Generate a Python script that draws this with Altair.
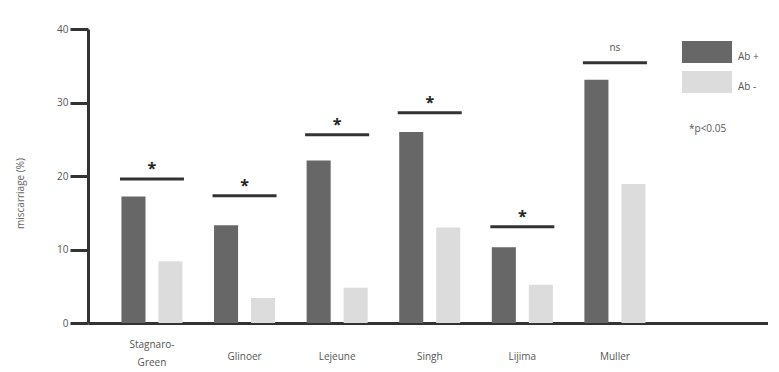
import altair as alt
import pandas as pd

studies = ["Stagnaro-Green", "Glinoer", "Lejeune", "Singh", "Lijima", "Muller"]
series_names = ["Ab +", "Ab -"]
ab_plus = [17.2, 13.3, 22.1, 26.0, 10.3, 33.1]
ab_minus = [8.4, 3.4, 4.8, 13.0, 5.2, 18.9]
sig_level = [19.6, 17.3, 25.6, 28.6, 13.1, 35.4]
sig_label = ["*", "*", "*", "*", "*", "ns"]
y_ticks = [0, 10, 20, 30, 40]
footnote = "*p<0.05"

DARK = "#676767"
LIGHT = "#dcdcdc"
INK = "#333333"
TXT = "#555555"
FONT = "Open Sans"

rows = []
for s, a, b in zip(studies, ab_plus, ab_minus):
    rows.append({"study": s, "series": series_names[0], "value": a})
    rows.append({"study": s, "series": series_names[1], "value": b})
bars_df = pd.DataFrame(rows)
sig_df = pd.DataFrame({"study": studies, "level": sig_level, "label": sig_label})

x_scale = alt.Scale(domain=studies, paddingInner=0, paddingOuter=0.672, align=0.142)
y_scale = alt.Scale(domain=[0, 40], nice=False)

x_axis = alt.Axis(
    title=None, ticks=False, tickSize=0, domainColor=INK, domainWidth=3,
    labelAngle=0, labelFont=FONT, labelFontSize=10, labelColor=TXT,
    labelBaseline="middle",
    labelPadding={"condition": {"test": "datum.value == 'Stagnaro-Green'", "value": 21}, "value": 33},
    labelExpr="datum.value == 'Stagnaro-Green' ? ['Stagnaro-', 'Green'] : datum.label",
    labelLineHeight=18,
)
y_axis = alt.Axis(
    title="miscarriage (%)", values=y_ticks, grid=False,
    domainColor=INK, domainWidth=3, tickColor=INK, tickWidth=3, tickSize=18,
    labelFont=FONT, labelFontSize=10, labelColor=TXT, labelPadding=2,
    titleFont=FONT, titleFontSize=10, titleFontWeight="normal", titleColor="#666666",
    titleX=-68, titleY=164, titleAngle=270, titleAlign="center", titleBaseline="middle",
)

legend = alt.Legend(
    title=footnote, titleOrient="bottom", titleFont=FONT, titleFontSize=10,
    titleFontWeight="normal", titleColor=TXT, titlePadding=31, titleAnchor="start",
    orient="none", legendX=601, legendY=5,
    symbolType="M-1.41,-0.62L1.41,-0.62L1.41,0.62L-1.41,0.62Z",
    symbolSize=1260, symbolStrokeWidth=0, symbolOpacity=1, rowPadding=0,
    labelFont=FONT, labelFontSize=10, labelColor=TXT, labelOffset=13,
    labelBaseline="top",
)

bars = alt.Chart(bars_df).mark_bar(opacity=1).encode(
    x=alt.X("study:N", scale=x_scale, axis=x_axis, sort=studies),
    xOffset=alt.XOffset("series:N", sort=series_names,
                        scale=alt.Scale(paddingInner=0.35, paddingOuter=0.426)),
    y=alt.Y("value:Q", scale=y_scale, axis=y_axis),
    color=alt.Color("series:N", sort=series_names,
                    scale=alt.Scale(domain=series_names, range=[DARK, LIGHT]),
                    legend=legend),
)

lines = alt.Chart(sig_df).mark_tick(size=64, thickness=3, color=INK, opacity=1).encode(
    x=alt.X("study:N", scale=x_scale, sort=studies),
    y=alt.Y("level:Q", scale=y_scale),
)

stars = alt.Chart(sig_df).transform_filter("datum.label == '*'").mark_text(
    font=FONT, fontSize=16, fontWeight="bold", color="#222222", baseline="middle", dy=-10
).encode(
    x=alt.X("study:N", scale=x_scale, sort=studies),
    y=alt.Y("level:Q", scale=y_scale),
    text="label:N",
)

ns = alt.Chart(sig_df).transform_filter("datum.label != '*'").mark_text(
    font=FONT, fontSize=10, color=TXT, baseline="middle", dy=-15
).encode(
    x=alt.X("study:N", scale=x_scale, sort=studies),
    y=alt.Y("level:Q", scale=y_scale),
    text="label:N",
)

chart = alt.layer(bars, lines, stars, ns).properties(
    width=680, height=294,
    autosize=alt.AutoSizeParams(type="none"),
    padding={"left": 80, "top": 21, "right": 0, "bottom": 45},
).configure_view(stroke=None)

chart.save("out.html", embed_options={"renderer": "svg", "actions": False})
